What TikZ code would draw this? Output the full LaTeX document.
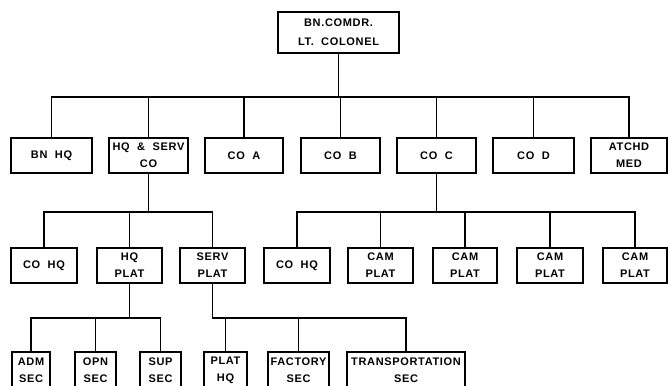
\documentclass[tikz,border=0pt]{standalone}
\usepackage{fontspec}
\newfontfamily\lbl[LetterSpace=6,WordSpace=2]{Liberation Sans}
\begin{document}
\begin{tikzpicture}[x=1pt,y=-1pt,
  box/.style={draw, line width=1.4pt, inner sep=0pt, align=center,
    font={\lbl\bfseries\fontsize{11}{17}\selectfont}},
  link/.style={line width=1.3pt, line join=miter}]
\useasboundingbox (0,0) rectangle (668,385);
\clip (0,0) rectangle (668,385);
% top
\node[box, minimum width=121pt, minimum height=41pt,
  font={\lbl\bfseries\fontsize{11}{19}\selectfont}] (top) at (338.5,32.5) {BN.COMDR.\\LT. COLONEL};
% level 1
\node[box, minimum width=81pt, minimum height=35pt] (bnhq) at (51.5,155.5) {BN HQ};
\node[box, minimum width=79pt, minimum height=35pt] (hqs) at (148.5,155.5) {HQ \& SERV\\CO};
\node[box, minimum width=78pt, minimum height=35pt] (coa) at (244,155.5) {CO A};
\node[box, minimum width=79pt, minimum height=35pt] (cob) at (340.5,155.5) {CO B};
\node[box, minimum width=79pt, minimum height=35pt] (coc) at (436.5,155.5) {CO C};
\node[box, minimum width=81pt, minimum height=35pt] (cod) at (533.5,155.5) {CO D};
\node[box, minimum width=76pt, minimum height=35pt] (atchd) at (629,155.5) {ATCHD\\MED};
% level 2
\node[box, minimum width=66pt, minimum height=35pt] (cohqa) at (44,265.5) {CO HQ};
\node[box, minimum width=65pt, minimum height=35pt] (hqplat) at (129.5,265.5) {HQ\\PLAT};
\node[box, minimum width=65pt, minimum height=35pt] (servplat) at (212.5,265.5) {SERV\\PLAT};
\node[box, minimum width=66pt, minimum height=35pt] (cohqb) at (297,265.5) {CO HQ};
\node[box, minimum width=65pt, minimum height=35pt] (cama) at (380.5,265.5) {CAM\\PLAT};
\node[box, minimum width=64pt, minimum height=35pt] (camb) at (465,265.5) {CAM\\PLAT};
\node[box, minimum width=66pt, minimum height=35pt] (camc) at (550,265.5) {CAM\\PLAT};
\node[box, minimum width=64pt, minimum height=35pt] (camd) at (635,265.5) {CAM\\PLAT};
% level 3
\node[box, minimum width=38pt, minimum height=36pt] (adm) at (31,370) {ADM\\SEC};
\node[box, minimum width=41pt, minimum height=36pt] (opn) at (95.5,370) {OPN\\SEC};
\node[box, minimum width=41pt, minimum height=36pt] (sup) at (160.5,370) {SUP\\SEC};
\node[box, minimum width=43pt, minimum height=36pt] (plathq) at (225.5,370) {PLAT\\HQ};
\node[box, minimum width=61pt, minimum height=36pt] (factory) at (298.5,370) {FACTORY\\SEC};
\node[box, minimum width=118pt, minimum height=36pt] (transp) at (406,370) {TRANSPORTATION\\SEC};
% bus levels
\coordinate (b1) at (0,97);
\coordinate (b2) at (0,212);
\coordinate (b3) at (0,318);
% level 1 connectors
\draw[link] (top.south) -- (top.south |- b1);
\draw[link] (bnhq.north) |- (atchd.north |- b1) -- (atchd.north);
\foreach \n in {hqs,coa,cob,coc,cod} \draw[link] (\n.north) -- (\n.north |- b1);
% level 2 connectors
\draw[link] (hqs.south) -- (hqs.south |- b2);
\draw[link] (cohqa.north) |- (servplat.north |- b2) -- (servplat.north);
\draw[link] (hqplat.north) -- (hqplat.north |- b2);
\draw[link] (coc.south) -- (coc.south |- b2);
\draw[link] (cohqb.north) |- (camd.north |- b2) -- (camd.north);
\foreach \n in {cama,camb,camc} \draw[link] (\n.north) -- (\n.north |- b2);
% level 3 connectors
\draw[link] (hqplat.south) -- (hqplat.south |- b3);
\draw[link] (adm.north) |- (sup.north |- b3) -- (sup.north);
\draw[link] (opn.north) -- (opn.north |- b3);
\draw[link] (servplat.south) |- (transp.north |- b3) -- (transp.north);
\foreach \n in {plathq,factory} \draw[link] (\n.north) -- (\n.north |- b3);
\end{tikzpicture}
\end{document}
